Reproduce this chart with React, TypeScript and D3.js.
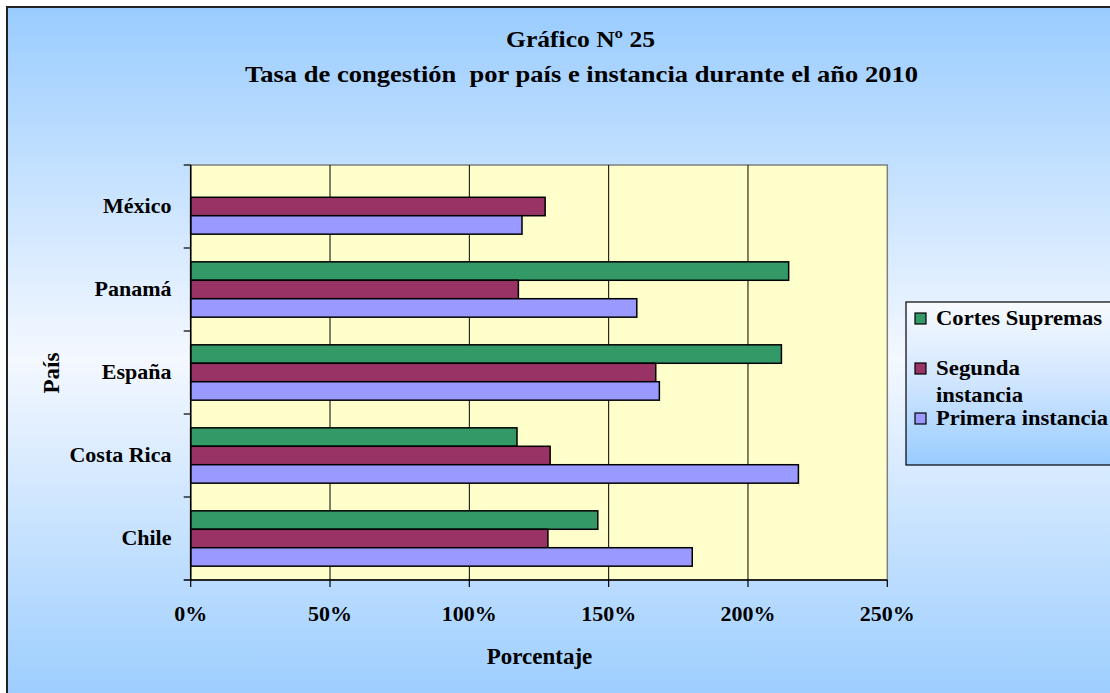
import React from "react";
import * as d3 from "d3";

const countries = ["México", "Panamá", "España", "Costa Rica", "Chile"];
const seriesNames = ["Cortes Supremas", "Segunda instancia", "Primera instancia"];
const cortesSupremas: (number | null)[] = [null, 214.6, 212, 117.1, 146.1];
const segundaInstancia = [127.2, 117.6, 166.9, 129, 128.2];
const primeraInstancia = [118.9, 160.1, 168.2, 218.1, 180];
const xTicks = [0, 50, 100, 150, 200, 250];
const colors = ["#339966", "#993366", "#9999ff"];

const W = 1110, H = 693;
const plot = { left: 190.7, right: 887.3, top: 165, bottom: 580 };
const FONT = "Liberation Serif";

export default function App() {
  const x = d3.scaleLinear().domain([0, 250]).range([plot.left, plot.right]);
  const y = d3.scaleBand<string>().domain(countries).range([plot.top, plot.bottom]).paddingInner(0).paddingOuter(0);
  const series = [cortesSupremas, segundaInstancia, primeraInstancia];
  const band = y.bandwidth();
  const barH = band / 4.5;
  const inner = d3.scaleBand<number>().domain([0, 1, 2]).range([band * 0.5 / 4.5 * 1.5, band - band * 0.5 / 4.5 * 1.5]);

  const legend = [
    { k: 0, lines: [{ t: "Cortes Supremas", w: 166 }], y: 325 },
    { k: 1, lines: [{ t: "Segunda", w: 84 }, { t: "instancia", w: 87 }], y: 375 },
    { k: 2, lines: [{ t: "Primera instancia", w: 172 }], y: 425 },
  ];

  return (
    <svg width={W} height={H} style={{ position: "absolute", left: 0, top: 0, fontFamily: FONT }}>
      <defs>
        <linearGradient id="bg" x1="0" y1="0" x2="0" y2="1">
          <stop offset="0" stopColor="#99ccff" />
          <stop offset="0.5" stopColor="#f4f8ff" />
          <stop offset="1" stopColor="#99ccff" />
        </linearGradient>
        <linearGradient id="lg" x1="0" y1="0" x2="0" y2="1">
          <stop offset="0" stopColor="#f8fbff" />
          <stop offset="0.5" stopColor="#cfe5ff" />
          <stop offset="1" stopColor="#99ccff" />
        </linearGradient>
      </defs>
      <rect x={0} y={0} width={W} height={H} fill="#ffffff" />
      <rect x={7} y={7} width={W + 10} height={H + 10} fill="url(#bg)" stroke="#222" strokeWidth={2} />

      <text x={580.5} y={47} textAnchor="middle" fontWeight="bold" fontSize={23} textLength={149} lengthAdjust="spacingAndGlyphs">Gráfico Nº 25</text>
      <text x={581.5} y={81.5} textAnchor="middle" fontWeight="bold" fontSize={23} textLength={673} lengthAdjust="spacingAndGlyphs" style={{ whiteSpace: "pre" }}>Tasa de congestión  por país e instancia durante el año 2010</text>

      <rect x={plot.left} y={plot.top} width={plot.right - plot.left} height={plot.bottom - plot.top} fill="#ffffcc" stroke="#808080" strokeWidth={1.5} />
      {xTicks.slice(1, -1).map((t) => (
        <line key={t} x1={x(t)} x2={x(t)} y1={plot.top} y2={plot.bottom} stroke="#000" strokeWidth={1} />
      ))}

      {countries.map((c, i) =>
        series.map((s, k) => {
          const v = s[i];
          if (v == null) return null;
          const y0 = (y(c) as number) + (inner(k) as number);
          return (
            <rect key={c + k} x={x(0)} y={y0} width={x(v) - x(0)} height={barH} fill={colors[k]} stroke="#000" strokeWidth={1.5} />
          );
        })
      )}

      {/* axes */}
      <line x1={plot.left} x2={plot.left} y1={plot.top} y2={plot.bottom} stroke="#000" strokeWidth={1.5} />
      <line x1={plot.left - 7} x2={plot.right} y1={plot.bottom} y2={plot.bottom} stroke="#000" strokeWidth={1.5} />
      {countries.map((c) => (
        <line key={c} x1={plot.left - 7} x2={plot.left} y1={y(c) as number} y2={y(c) as number} stroke="#000" strokeWidth={1.2} />
      ))}
      {xTicks.map((t) => (
        <line key={t} x1={x(t)} x2={x(t)} y1={plot.bottom} y2={plot.bottom + 7} stroke="#000" strokeWidth={1.2} />
      ))}
      {countries.map((c) => (
        <text key={c} x={171.5} y={(y(c) as number) + band / 2 + 6} textAnchor="end" fontWeight="bold" fontSize={22}>{c}</text>
      ))}
      {xTicks.map((t) => (
        <text key={t} x={x(t)} y={621} textAnchor="middle" fontWeight="bold" fontSize={22}>{t + "%"}</text>
      ))}
      <text x={539.5} y={664} textAnchor="middle" fontWeight="bold" fontSize={23}>Porcentaje</text>
      <text transform="translate(59,373) rotate(-90)" textAnchor="middle" fontWeight="bold" fontSize={23}>País</text>

      {/* legend */}
      <rect x={906} y={302} width={220} height={163} fill="url(#lg)" stroke="#000" strokeWidth={1.2} />
      {legend.map((e) => (
        <g key={e.k}>
          <rect x={915} y={e.y - 12} width={11} height={11} fill={colors[e.k]} stroke="#000" strokeWidth={1.2} />
          {e.lines.map((l, j) => (
            <text key={j} x={936} y={e.y + j * 26.7} fontWeight="bold" fontSize={21} textLength={l.w} lengthAdjust="spacingAndGlyphs">{l.t}</text>
          ))}
        </g>
      ))}
      <text display="none">{seriesNames.join(",")}</text>
    </svg>
  );
}
